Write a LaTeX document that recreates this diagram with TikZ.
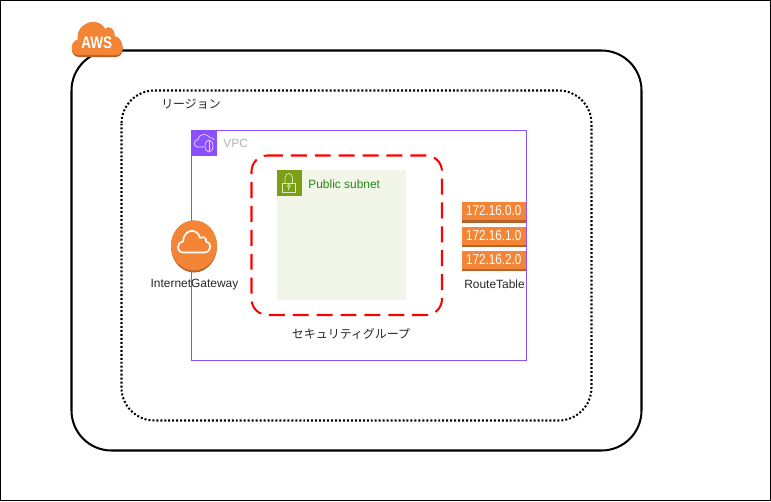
\documentclass[tikz,border=0pt]{standalone}
\usepackage{fontspec}
\setmainfont{Liberation Sans}
\newfontfamily\cjk{Noto Sans CJK JP}
\newfontfamily\narrowfont[FakeStretch=0.81]{Liberation Sans}
\usetikzlibrary{shapes.geometric}
\definecolor{awsorange}{HTML}{F58536}
\definecolor{awsdark}{HTML}{B7622B}
\definecolor{vpcpurple}{HTML}{8C4FFF}
\definecolor{vpctext}{HTML}{AAB7B8}
\definecolor{subnetgreen}{HTML}{7AA116}
\definecolor{subnettext}{HTML}{248814}
\definecolor{subnetfill}{HTML}{F2F6E8}
\tikzset{
	label12/.style={font=\fontsize{6.8pt}{8pt}\selectfont, text=black!85, inner sep=0},
	jplabel/.style={font=\fontsize{6.8pt}{8pt}\selectfont\cjk, text=black!85, inner sep=0},
	routebox/.style={fill=awsorange, minimum width=64.5*0.02cm, minimum height=18*0.02cm, inner sep=0, text=white, font=\fontsize{8.2pt}{9pt}\selectfont\narrowfont},
}
\begin{document}
\begin{tikzpicture}[x=0.02cm, y=-0.02cm]
	%%%%% frame %%%%%
	\useasboundingbox (0, 0) rectangle (771, 501);
	\draw[line width=0.6pt] (0.5, 0.5) rectangle (770.5, 500.5);

	%%%%% aws, region %%%%%
	\draw[line width=1.15pt, rounded corners=40*0.02cm] (71.5, 50.5) rectangle (641.5, 450.5);
	\draw[line width=1.15pt, dash pattern=on 1.13pt off 1.13pt, rounded corners=33*0.02cm] (121.5, 90.5) rectangle (591.5, 420.5);
	\node[jplabel] (regionlabel) at (191, 104) {リージョン};

	%%%%% vpc %%%%%
	\draw[vpcpurple, line width=0.6pt] (191.5, 130.5) rectangle (526.5, 360.5);
	\fill[vpcpurple] (191, 130) rectangle (217, 156);
	\draw[white!80!vpcpurple, line width=0.4pt] (204, 147) -- (198, 147) .. controls (193, 147) and (193, 140) .. (198, 139.5) .. controls (199, 133) and (208, 133) .. (210, 138) .. controls (212, 137) and (214, 138) .. (214, 140);
	\draw[white!80!vpcpurple, line width=0.4pt] (209, 146) ellipse (4 and 6);
	\draw[white!80!vpcpurple, line width=0.4pt] (209, 141) -- (209, 151);
	\node[label12, text=vpctext, anchor=west] (vpclabel) at (223, 143.5) {VPC};

	%%%%% subnet %%%%%
	\fill[subnetfill] (277, 170) rectangle (406, 300);
	\fill[subnetgreen] (277, 170) rectangle (302, 196);
	\draw[white!75!subnetgreen, line width=0.4pt] (282, 183) rectangle (295.5, 192);
	\draw[white!75!subnetgreen, line width=0.4pt] (285, 183) -- (285, 178) .. controls (285, 172) and (292.5, 172) .. (292.5, 178) -- (292.5, 183);
	\draw[white!75!subnetgreen, line width=0.4pt] (288.8, 186) circle (1.5);
	\draw[white!75!subnetgreen, line width=0.4pt] (288.8, 187.5) -- (288.8, 190);
	\node[label12, text=subnettext, anchor=west] (subnetlabel) at (308, 184) {Public subnet};

	%%%%% security group %%%%%
	\draw[red, line width=1.15pt, dash pattern=on 9.07pt off 4.53pt, rounded corners=16*0.02cm] (267, 155.5) -- (442, 155.5) -- (442, 315) -- (251.5, 315) -- (251.5, 155.5) -- (268, 155.5);
	\node[jplabel] (sglabel) at (351, 334) {セキュリティグループ};

	%%%%% gateway %%%%%
	\fill[awsdark] (194, 246.5) ellipse (23 and 26);
	\fill[awsorange] (194, 245.5) ellipse (23 and 25);
	\draw[white, line width=0.95pt, line join=round] (184, 252.5) .. controls (176, 252.5) and (176, 243) .. (183, 241.5) .. controls (184, 228) and (198, 228) .. (200, 238) .. controls (203, 236) and (207, 238) .. (206, 241.5) .. controls (212, 242) and (212, 252.5) .. (204, 252.5) -- cycle;
	\node[label12] (gatewaylabel) at (194.5, 284.5) {InternetGateway};

	%%%%% route table %%%%%
	\foreach \routey/\routetext/\routename in {212/172.16.0.0/routea, 236.5/172.16.1.0/routeb, 260.5/172.16.2.0/routec} {
		\fill[awsdark] (461.5, \routey-10) rectangle (526, \routey+10.5);
		\node[routebox] (\routename) at (493.75, \routey-1) {\routetext};
	}
	\node[label12] (routelabel) at (494.5, 284.5) {RouteTable};

	%%%%% aws cloud %%%%%
	\path[fill=awsdark] (79, 57) .. controls (70, 57) and (69, 42) .. (78, 39.5) .. controls (76, 28) and (87, 22) .. (93, 22) .. controls (99, 22) and (103, 25) .. (105, 29) .. controls (109, 25) and (115, 29) .. (114.5, 36) .. controls (124, 38) and (126, 57) .. (116, 57) -- cycle;
	\path[fill=awsorange] (79, 55) .. controls (70, 55) and (69, 42) .. (78, 39.5) .. controls (76, 28) and (87, 22) .. (93, 22) .. controls (99, 22) and (103, 25) .. (105, 29) .. controls (109, 25) and (115, 29) .. (114.5, 36) .. controls (124, 38) and (126, 55) .. (116, 55) -- cycle;
	\node[inner sep=0, text=white, font=\fontsize{9.5pt}{10pt}\selectfont\narrowfont\bfseries] (awslabel) at (96.7, 43) {AWS};
\end{tikzpicture}
\end{document}
